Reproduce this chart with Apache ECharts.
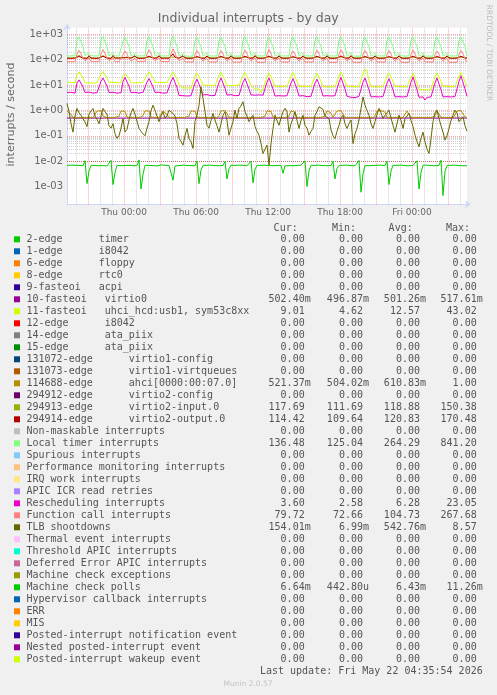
<!DOCTYPE html>
<html><head><meta charset="utf-8">
<script src="https://cdn.jsdelivr.net/npm/echarts@6/dist/echarts.min.js"></script>
<style>html,body{margin:0;padding:0;background:#F0F0F0;}#c{width:497px;height:695px;}</style>
</head><body><div id="c"></div><script>
// ---- time axis (minutes since Wed 00:00) ----
const startMinute = 1155;   // Wed 19:15
const endMinute = 3155;     // Fri 04:35
const stepMinutes = 10;
const xLabelMinutes = [1440, 1800, 2160, 2520, 2880];
const dayNames = ['Wed', 'Thu', 'Fri'];
const yMin = 2.0e-4, yMax = 1820;

// ---- series values (one value per 10 minutes, 201 points) ----
const virtio0 = [0.501,0.500,0.502,0.499,0.501,0.503,0.500,0.498,0.501,0.502,
0.500,0.499,0.501,0.502,0.500,0.501,0.499,0.503,0.500,0.501,
0.502,0.500,0.498,0.501,0.500,0.502,0.501,0.499,0.500,0.503,
0.501,0.500,0.502,0.499,0.501,0.500,0.498,0.502,0.501,0.500,
0.499,0.501,0.503,0.500,0.502,0.501,0.499,0.500,0.501,0.502,
0.500,0.518,0.504,0.500,0.501,0.499,0.502,0.500,0.501,0.498,
0.500,0.502,0.501,0.499,0.500,0.503,0.501,0.500,0.502,0.499,
0.501,0.500,0.498,0.501,0.502,0.500,0.499,0.501,0.500,0.502,
0.501,0.499,0.500,0.503,0.501,0.500,0.502,0.499,0.501,0.500,
0.497,0.501,0.502,0.500,0.499,0.501,0.500,0.502,0.501,0.499,
0.500,0.503,0.501,0.500,0.502,0.499,0.501,0.500,0.498,0.501,
0.502,0.500,0.499,0.501,0.500,0.502,0.501,0.499,0.500,0.503,
0.501,0.500,0.502,0.499,0.501,0.500,0.498,0.502,0.501,0.500,
0.499,0.501,0.503,0.500,0.502,0.501,0.499,0.500,0.501,0.502,
0.500,0.501,0.504,0.500,0.501,0.499,0.502,0.500,0.501,0.498,
0.500,0.502,0.501,0.499,0.500,0.503,0.501,0.500,0.502,0.499,
0.501,0.500,0.498,0.501,0.502,0.500,0.499,0.501,0.500,0.502,
0.501,0.499,0.500,0.503,0.501,0.500,0.502,0.499,0.501,0.500,
0.499,0.501,0.502,0.500,0.499,0.501,0.500,0.502,0.501,0.499,
0.500,0.503,0.501,0.500,0.502,0.499,0.501,0.500,0.501,0.502,
0.5024];

const uhci = [12.6,12.1,12.9,12.3,12.0,25,33,30,19,12.4,
12.8,12.2,12.5,11.9,12.7,12.3,12.1,26,34,31,
19,12.6,12.2,12.9,12.4,12.0,12.5,12.8,23,28,
27,18,12.3,12.6,12.1,12.7,12.4,12.0,12.6,12.2,
25,33,31,19,12.5,12.1,12.8,12.3,12.6,12.0,
12.4,12.7,25,33,30,17,10.2,9.8,7.6,7.3,
7.7,7.2,7.5,7.4,22,30,28,15,9.8,9.5,
9.9,9.6,9.8,9.4,9.7,10.0,23,32,29,15,
9.6,9.9,9.5,9.8,9.7,9.4,9.9,9.6,23,31,
28,15,9.7,9.5,7.0,6.7,6.9,5.2,6.8,6.6,
21,30,28,14,8.9,8.7,9.0,8.6,8.8,8.5,
8.9,8.7,22,31,29,14,8.8,8.6,9.0,8.7,
8.9,8.5,8.8,8.6,21,29,27,14,8.7,8.9,
8.6,8.8,8.5,8.9,8.7,8.6,22,32,29,14,
8.8,8.6,8.9,8.7,8.5,8.8,8.6,8.9,28,43.02,
35,15,8.7,8.9,8.6,8.8,8.5,8.7,8.9,8.6,
22,30,28,14,8.8,8.6,8.9,8.7,8.5,8.8,
8.6,8.7,21,29,27,12,6.5,6.2,6.6,6.3,
6.4,6.1,6.5,6.3,21,30,28,14,8.9,8.7,
9.0,8.8,8.6,8.9,8.7,8.8,22,31,29,14,
9.01];

const ahci = [0.95,0.98,0.7,0.53,0.52,0.51,0.52,0.53,0.52,0.51,
0.52,0.53,0.52,0.51,0.6,0.95,1.0,0.97,0.6,0.52,
0.51,0.53,0.52,0.51,0.52,0.53,0.6,0.96,1.0,0.9,
0.55,0.52,0.51,0.52,0.53,0.52,0.51,0.52,0.62,0.97,
1.0,0.94,0.55,0.52,0.51,0.52,0.53,0.6,0.95,0.98,
0.7,0.52,0.51,0.52,0.53,0.52,0.51,0.52,0.53,0.52,
0.51,0.6,0.96,1.0,0.92,0.55,0.52,0.51,0.52,0.53,
0.52,0.51,0.52,0.53,0.52,0.51,0.62,0.96,1.0,0.99,
0.9,0.55,0.52,0.51,0.52,0.53,0.52,0.51,0.52,0.53,
0.52,0.51,0.52,0.53,0.52,0.51,0.52,0.53,0.52,0.6,
0.97,1.0,0.9,0.55,0.52,0.51,0.52,0.53,0.52,0.51,
0.52,0.6,0.95,0.99,0.85,0.53,0.52,0.51,0.52,0.53,
0.52,0.51,0.52,0.53,0.52,0.51,0.52,0.53,0.52,0.6,
0.96,1.0,0.8,0.53,0.6,0.95,1.0,0.98,0.85,0.53,
0.52,0.51,0.52,0.53,0.52,0.51,0.52,0.53,0.52,0.51,
0.52,0.53,0.52,0.51,0.62,0.96,1.0,0.99,0.97,0.85,
0.53,0.52,0.51,0.52,0.53,0.52,0.51,0.52,0.53,0.6,
0.95,0.9,0.53,0.52,0.51,0.52,0.53,0.52,0.51,0.52,
0.53,0.52,0.51,0.52,0.62,0.97,0.9,0.53,0.52,0.51,
0.52,0.53,0.52,0.51,0.6,0.96,1.0,0.98,0.9,0.55,
0.5214];

const virtio2Input = [117,118,116,117,119,124,148,126,119,117,
116,133,118,117,116,118,117,125,146,127,
118,117,116,134,118,117,119,116,123,142,
125,118,117,116,131,118,117,116,118,117,
124,145,126,119,117,118,133,116,117,118,
116,117,126,150.38,128,119,117,116,132,118,
117,116,118,117,123,143,125,118,117,116,
131,117,118,116,117,118,124,144,126,118,
117,116,132,118,117,116,118,117,124,146,
126,119,117,116,133,117,118,116,117,118,
125,147,127,118,117,116,132,118,117,116,
118,117,123,141,124,118,117,116,131,118,
117,116,118,117,124,145,126,118,117,116,
132,117,118,116,117,118,125,148,127,119,
117,116,133,118,117,116,118,117,124,144,
126,118,117,116,131,118,117,116,118,117,
123,142,125,118,117,116,132,118,117,116,
118,117,124,146,126,119,117,116,133,118,
117,116,118,117,123,143,125,118,117,116,
131,118,117,116,118,117,124,145,126,118,
117.69];

const virtio2Output = [114,115,113,114,115,118,134,121,115,114,
113,144,115,114,113,115,114,119,136,122,
115,114,113,146,115,114,115,113,118,132,
120,115,114,113,143,115,114,113,115,114,
118,137,121,115,114,115,145,113,114,115,
113,114,120,170.48,124,116,114,113,144,115,
114,113,115,114,118,133,120,115,114,113,
142,114,115,113,114,115,118,135,121,115,
114,113,145,115,114,113,115,114,119,136,
121,115,114,113,146,114,115,113,114,115,
118,138,122,115,114,113,144,115,114,113,
115,114,118,132,120,115,114,113,143,115,
114,113,115,114,118,136,121,115,114,113,
145,114,115,113,114,115,119,139,122,115,
114,113,146,115,114,113,115,114,118,134,
121,115,114,113,143,115,114,113,115,114,
118,133,120,115,114,113,144,115,114,113,
115,114,119,137,121,115,114,113,145,115,
114,113,115,114,118,134,120,115,114,113,
143,115,114,113,115,114,118,136,121,115,
114.42];

const localTimer = [140,138,141,139,142,560,790,760,330,145,
140,178,142,139,141,138,140,570,810,770,
320,143,139,182,141,138,140,139,540,770,
750,335,142,138,176,140,139,141,138,142,
560,800,770,325,141,139,180,140,138,141,
139,140,580,841.2,790,330,140,137,175,139,
141,138,140,139,550,780,750,320,142,138,
179,141,139,140,138,141,555,760,740,330,
140,139,177,138,141,139,140,138,570,800,
765,325,141,138,181,140,139,141,138,140,
560,790,760,320,142,139,178,140,138,141,
139,140,545,770,745,335,141,138,180,140,
139,141,138,140,570,800,770,325,142,138,
176,141,139,140,138,141,580,810,780,330,
140,139,182,138,141,139,140,138,555,790,
760,320,141,138,179,140,139,141,138,140,
560,780,750,330,142,138,177,141,139,140,
138,141,570,800,770,325,140,139,181,138,
141,139,140,138,550,770,745,320,141,138,
178,140,139,141,138,140,560,790,760,330,
136.48];

const rescheduling = [5.1,4.9,5.2,5.0,4.8,12,16,15,8.5,5.1,
4.9,5.3,5.0,4.8,5.2,5.0,4.9,14,19,18,
9,5.1,4.9,5.2,5.0,4.8,5.1,5.0,14,20,
19,9,5.0,4.9,5.2,5.1,4.8,5.0,5.2,4.9,
13,18,17,8.5,5.1,4.9,5.2,5.0,4.8,5.1,
4.9,5.2,14,20,19,8,3.9,3.6,3.8,3.5,
3.7,3.6,3.8,3.5,12,17,16,7,4.1,3.9,
4.2,4.0,3.8,4.1,3.9,4.2,13,19,18,7.5,
4.0,3.9,4.2,4.0,3.8,4.1,3.9,4.0,13,18,
17,7,4.1,3.9,4.0,3.8,4.1,3.9,4.0,3.8,
13,19,18,7,3.7,3.6,3.8,3.5,3.7,3.6,
3.8,3.5,12,18,17,7,3.7,3.6,3.8,3.6,
3.5,3.7,3.6,3.8,12,17,16,6.8,3.7,3.5,
3.8,3.6,3.7,3.5,3.8,3.6,13,20,19,7,
3.6,3.4,3.3,3.5,3.2,3.4,3.6,3.3,13,19,
18,6.5,3.4,3.3,3.5,3.2,3.4,3.3,3.5,3.2,
12,18,17,6.5,3.4,3.2,3.5,3.3,3.4,3.2,
3.5,3.3,13,21,19,6.5,3.3,3.2,3.4,2.58,
3.3,3.1,3.4,3.2,12,19,18,6.5,3.4,3.3,
3.5,3.2,3.4,3.3,3.5,3.4,14,23.05,20,7,
3.6];

const functionCall = [84,86,83,85,84,165,235,175,110,90,
84,115,85,83,86,84,85,168,250,180,
112,91,85,116,84,86,83,85,160,220,
170,108,89,84,114,85,83,86,84,85,
170,245,178,110,90,84,117,85,83,84,
86,84,172,267.68,185,112,91,83,115,82,
80,81,79,80,160,230,172,108,88,80,
113,81,79,80,78,81,158,225,170,107,
88,80,114,79,81,80,78,80,165,240,
176,109,89,81,116,79,80,78,81,79,
166,250,178,110,89,80,115,81,79,80,
78,81,158,220,168,107,88,79,113,80,
78,81,79,80,163,235,174,108,89,80,
114,79,81,78,80,79,167,245,178,110,
89,80,116,78,80,79,81,78,160,230,
172,108,88,79,114,80,78,81,79,80,
158,225,170,107,88,80,113,79,81,78,
80,79,165,240,176,109,89,79,115,80,
78,81,79,80,157,220,168,107,88,80,
114,79,81,78,80,79,162,230,172,108,
79.72];

const tlbShootdowns = [1.9,0.9,0.3,0.14,0.6,1.2,0.8,0.65,0.6,0.35,
0.23,0.7,0.95,1.2,0.6,0.45,0.3,0.26,1.2,0.9,
0.7,0.25,0.2,0.3,0.12,0.08,0.1,0.2,0.48,0.14,
0.18,0.42,0.8,1.2,0.7,0.6,0.2,0.15,0.12,0.1,
0.2,0.36,1.0,1.6,1.0,0.6,0.36,0.6,0.89,0.5,
0.6,1.03,0.9,0.76,0.6,0.3,0.08,0.06,0.043,0.1,
0.195,0.078,0.058,0.032,0.37,0.65,1.6,8.57,3.0,0.89,
0.26,0.2,0.4,0.76,0.42,0.25,0.14,0.3,0.65,0.89,
0.4,0.106,0.2,0.36,1.03,0.48,1.2,1.5,2.2,0.89,
0.6,0.36,0.5,0.65,0.23,0.15,0.106,0.05,0.02,0.03,
0.043,0.00699,0.05,0.195,0.65,0.4,0.26,0.5,0.89,1.2,
0.9,0.14,0.3,0.48,0.89,0.4,0.195,0.4,0.65,0.26,
0.2,0.106,0.15,0.195,0.65,0.9,1.4,1.2,1.1,0.6,
0.55,0.48,0.17,0.1,0.078,0.15,0.26,0.5,0.65,0.3,
0.195,0.3,0.42,0.05,0.12,0.195,0.42,1.2,3.4,1.6,
1.0,0.65,0.3,0.195,0.36,0.7,1.2,0.8,0.48,0.65,
0.8,1.03,0.5,0.26,0.14,0.3,0.65,0.4,0.195,0.48,
0.6,0.76,0.4,0.23,0.106,0.06,0.037,0.08,0.14,0.058,
0.03,0.02,0.078,0.36,0.8,1.03,0.48,0.25,0.14,0.068,
0.1,0.195,0.4,0.65,1.03,0.8,0.36,0.45,0.56,0.25,
0.154];

// machine check polls, in milli-interrupts per second
const machineCheckPollsMilli = [6.8,6.6,7.0,6.7,6.9,6.5,6.8,7.1,6.6,10.5,
1.3,4.0,6.9,6.7,6.8,7.0,6.6,6.9,6.7,7.2,
6.5,6.8,10.8,1.2,3.5,6.8,6.9,6.6,7.0,6.7,
5.6,6.9,6.8,6.6,7.0,6.7,11.26,0.8,3.0,6.9,
6.6,6.8,7.0,6.7,6.9,6.5,6.8,7.1,6.6,6.9,
6.7,6.8,7.0,1.8,6.5,6.9,6.7,6.8,7.0,6.6,
6.8,6.9,6.7,7.0,6.6,10.2,1.3,4.5,6.8,6.7,
6.9,6.6,7.0,6.8,6.7,6.9,6.6,7.0,6.8,9.8,
2.0,5.0,6.9,6.7,6.8,6.6,7.0,6.7,6.9,6.8,
6.6,7.0,10.0,1.4,4.8,6.8,6.7,6.9,6.6,7.0,
6.8,6.7,6.9,6.6,7.0,6.8,6.7,6.9,3.3,6.5,
6.8,6.7,7.0,6.6,6.9,6.8,6.7,7.0,6.6,10.3,
1.0,4.2,6.9,6.7,6.8,6.6,7.0,6.8,6.7,6.9,
6.6,7.0,6.8,10.0,2.0,5.2,6.8,6.7,6.9,6.6,
7.0,6.8,6.7,6.9,6.6,7.0,10.6,0.6,3.2,6.7,
6.9,6.6,7.0,6.8,6.7,6.9,6.6,7.0,6.8,6.7,
9.9,1.2,4.1,6.8,6.7,6.9,6.6,7.0,6.8,6.7,
6.9,6.6,7.0,6.8,6.7,10.4,0.8,3.6,6.9,6.6,
7.0,6.8,6.7,6.9,6.6,7.0,6.8,10.9,0.4428,3.9,
6.8,6.7,6.9,6.6,7.0,6.8,6.7,6.9,6.6,6.8,
6.64];

// ---- legend table ----
const legendLabels = ["2-edge      timer","1-edge      i8042","6-edge      floppy","8-edge      rtc0","9-fasteoi   acpi",
"10-fasteoi   virtio0","11-fasteoi   uhci_hcd:usb1, sym53c8xx","12-edge      i8042","14-edge      ata_piix","15-edge      ata_piix",
"131072-edge      virtio1-config","131073-edge      virtio1-virtqueues","114688-edge      ahci[0000:00:07.0]","294912-edge      virtio2-config","294913-edge      virtio2-input.0",
"294914-edge      virtio2-output.0","Non-maskable interrupts","Local timer interrupts","Spurious interrupts","Performance monitoring interrupts",
"IRQ work interrupts","APIC ICR read retries","Rescheduling interrupts","Function call interrupts","TLB shootdowns",
"Thermal event interrupts","Threshold APIC interrupts","Deferred Error APIC interrupts","Machine check exceptions","Machine check polls",
"Hypervisor callback interrupts","ERR","MIS","Posted-interrupt notification event","Nested posted-interrupt event","Posted-interrupt wakeup event"];
const legendColors = ["#00CC00","#0066B3","#FF8000","#FFCC00","#330099","#990099","#CCFF00","#FF0000","#808080","#008F00",
"#00487D","#B35A00","#B38F00","#6B006B","#8FB300","#B30000","#BEBEBE","#80FF80","#80C9FF","#FFC080",
"#FFE680","#AA80FF","#EE00CC","#FF8080","#666600","#FFBFFF","#00FFCC","#CC6699","#999900","#00CC00",
"#0066B3","#FF8000","#FFCC00","#330099","#990099","#CCFF00"];
const Z = "0.00";
const curVals = [Z,Z,Z,Z,Z,"502.40m","9.01",Z,Z,Z,Z,Z,"521.37m",Z,"117.69","114.42",Z,"136.48",Z,Z,Z,Z,"3.60","79.72","154.01m",Z,Z,Z,Z,"6.64m",Z,Z,Z,Z,Z,Z];
const minVals = [Z,Z,Z,Z,Z,"496.87m","4.62",Z,Z,Z,Z,Z,"504.02m",Z,"111.69","109.64",Z,"125.04",Z,Z,Z,Z,"2.58","72.66","6.99m",Z,Z,Z,Z,"442.80u",Z,Z,Z,Z,Z,Z];
const avgVals = [Z,Z,Z,Z,Z,"501.26m","12.57",Z,Z,Z,Z,Z,"610.83m",Z,"118.88","120.83",Z,"264.29",Z,Z,Z,Z,"6.28","104.73","542.76m",Z,Z,Z,Z,"6.43m",Z,Z,Z,Z,Z,Z];
const maxVals = [Z,Z,Z,Z,Z,"517.61m","43.02",Z,Z,Z,Z,Z,"1.00",Z,"150.38","170.48",Z,"841.20",Z,Z,Z,Z,"23.05","267.68","8.57",Z,Z,Z,Z,"11.26m",Z,Z,Z,Z,Z,Z];
const columnHeaders = ["Cur:", "Min:", "Avg:", "Max:"];

// ---- build ----
const times = virtio0.map((_, i) => startMinute + i * stepMinutes);
const pair = arr => arr.map((v, i) => [times[i], v]);
const plotted = [
  {name: '10-fasteoi virtio0', color: '#990099', values: virtio0},
  {name: '11-fasteoi uhci_hcd:usb1, sym53c8xx', color: '#CCFF00', values: uhci},
  {name: '114688-edge ahci', color: '#B38F00', values: ahci},
  {name: '294913-edge virtio2-input.0', color: '#8FB300', values: virtio2Input},
  {name: '294914-edge virtio2-output.0', color: '#B30000', values: virtio2Output},
  {name: 'Local timer interrupts', color: '#80FF80', values: localTimer},
  {name: 'Rescheduling interrupts', color: '#EE00CC', values: rescheduling},
  {name: 'Function call interrupts', color: '#FF8080', values: functionCall},
  {name: 'TLB shootdowns', color: '#666600', values: tlbShootdowns},
  {name: 'Machine check polls', color: '#00CC00', values: machineCheckPollsMilli.map(v => v / 1000)}
];

// grid lines
const minorGrid = {type: [1, 1], color: 'rgba(143,143,143,0.42)', width: 1};
const majorGrid = {type: [1, 1], color: 'rgba(246,64,64,0.45)', width: 1};
const gridLines = [];
for (let e = -4; e <= 3; e++) for (let k = 2; k <= 9; k++) {
  const v = k * Math.pow(10, e);
  if (v > yMin && v < yMax) gridLines.push({yAxis: v, lineStyle: minorGrid});
}
for (let m = Math.ceil(startMinute / 60) * 60; m < endMinute; m += 60) {
  if (m % 180 !== 0) gridLines.push({xAxis: m, lineStyle: minorGrid});
}
for (let e = -3; e <= 3; e++) gridLines.push({yAxis: Math.pow(10, e), lineStyle: majorGrid});
for (let m = Math.ceil(startMinute / 180) * 180; m < endMinute; m += 180) gridLines.push({xAxis: m, lineStyle: majorGrid});
gridLines.push({yAxis: yMin, lineStyle: {type: 'solid', color: 'rgba(204,255,0,0.55)', width: 1}});

const series = [{
  type: 'line', data: [], silent: true, z: 1,
  markLine: {silent: true, z: 1, symbol: ['none', 'none'], label: {show: false}, animation: false, emphasis: {disabled: true}, data: gridLines}
}];
plotted.forEach(s => series.push({
  name: s.name, type: 'line', data: pair(s.values), showSymbol: false, symbol: 'none',
  lineStyle: {color: s.color, width: 1}, itemStyle: {color: s.color}, z: 2,
  animation: false, silent: true, emphasis: {disabled: true}
}));

// graphic: title, texts, legend
const FONT = 'DejaVu Sans', MONO = 'DejaVu Sans Mono', TXT = '#555555';
const g = [];
g.push({type: 'text', x: 248.3, y: 19, style: {text: 'Individual interrupts - by day', fontFamily: FONT, fontSize: 12.5, fill: '#666666', align: 'center', verticalAlign: 'middle'}});
g.push({type: 'text', x: 11, y: 114.5, rotation: Math.PI / 2, style: {text: 'interrupts / second', fontFamily: FONT, fontSize: 11, fill: '#666666', align: 'center', verticalAlign: 'middle'}});
g.push({type: 'text', x: 488.5, y: 53, rotation: -Math.PI / 2, style: {text: 'RRDTOOL / TOBI OETIKER', fontFamily: FONT, fontSize: 7.5, fill: '#bbbbbb', align: 'center', verticalAlign: 'middle'}});
const colRight = [310.7, 369, 426, 482.7];
const hdrRight = [297.7, 356, 412.7, 470];
const CH = 6.02;
columnHeaders.forEach((h, j) => g.push({type: 'text', x: hdrRight[j], y: 228.3, style: {text: h, fontFamily: MONO, fontSize: 10, fill: TXT, align: 'right', verticalAlign: 'middle'}}));
legendLabels.forEach((lab, i) => {
  const y = 239.3 + 12 * i;
  g.push({type: 'rect', shape: {x: 14, y: y - 3, width: 6, height: 6}, style: {fill: legendColors[i]}});
  g.push({type: 'text', x: 26.5, y: y, style: {text: lab, fontFamily: MONO, fontSize: 10, fill: TXT, align: 'left', verticalAlign: 'middle'}});
  [curVals, minVals, avgVals, maxVals].forEach((col, j) => {
    const s = col[i];
    const hasUnit = /[a-zA-Z]$/.test(s);
    g.push({type: 'text', x: colRight[j] - (hasUnit ? 0 : CH), y: y, style: {text: s, fontFamily: MONO, fontSize: 10, fill: TXT, align: 'right', verticalAlign: 'middle'}});
  });
});
g.push({type: 'text', x: 482.7, y: 671.3, style: {text: 'Last update: Fri May 22 04:35:54 2026', fontFamily: MONO, fontSize: 10, fill: TXT, align: 'right', verticalAlign: 'middle'}});
g.push({type: 'text', x: 248, y: 683.7, style: {text: 'Munin 2.0.57', fontFamily: FONT, fontSize: 7.5, fill: '#c4c4c4', align: 'center', verticalAlign: 'middle'}});

const chart = echarts.init(document.getElementById('c'), null, {renderer: 'canvas'});
chart.setOption({
  animation: false,
  backgroundColor: '#F0F0F0',
  grid: {left: 67, top: 27.7, width: 400, height: 176.6, show: true, backgroundColor: '#FFFFFF', borderWidth: 0},
  xAxis: {
    type: 'value', min: startMinute, max: endMinute,
    axisLine: {show: true, lineStyle: {color: '#CFD6F8', width: 1}, symbol: ['none', 'arrow'], symbolSize: [6, 6], symbolOffset: [0, 4]},
    axisTick: {show: false},
    splitLine: {show: false},
    axisLabel: {
      customValues: xLabelMinutes, margin: 4, color: '#666666', fontFamily: FONT, fontSize: 9,
      formatter: v => { const d = Math.floor(v / 1440), r = v - d * 1440; const hh = Math.floor(r / 60), mm = r % 60; return dayNames[d] + ' ' + String(hh).padStart(2, '0') + ':' + String(mm).padStart(2, '0'); }
    }
  },
  yAxis: {
    type: 'log', logBase: 10, min: yMin, max: yMax,
    axisLine: {show: true, lineStyle: {color: '#CFD6F8', width: 1}, symbol: ['none', 'arrow'], symbolSize: [6, 6], symbolOffset: [0, 4]},
    axisTick: {show: false},
    splitLine: {show: false},
    axisLabel: {
      margin: 4, color: '#666666', fontFamily: FONT, fontSize: 10, showMinLabel: false, showMaxLabel: false,
      formatter: v => { const e = Math.log10(v); const r = Math.round(e); if (Math.abs(e - r) > 1e-6) return ''; return '1e' + (r < 0 ? '-' : '+') + String(Math.abs(r)).padStart(2, '0'); }
    }
  },
  series: series,
  graphic: g
});
</script></body></html>
